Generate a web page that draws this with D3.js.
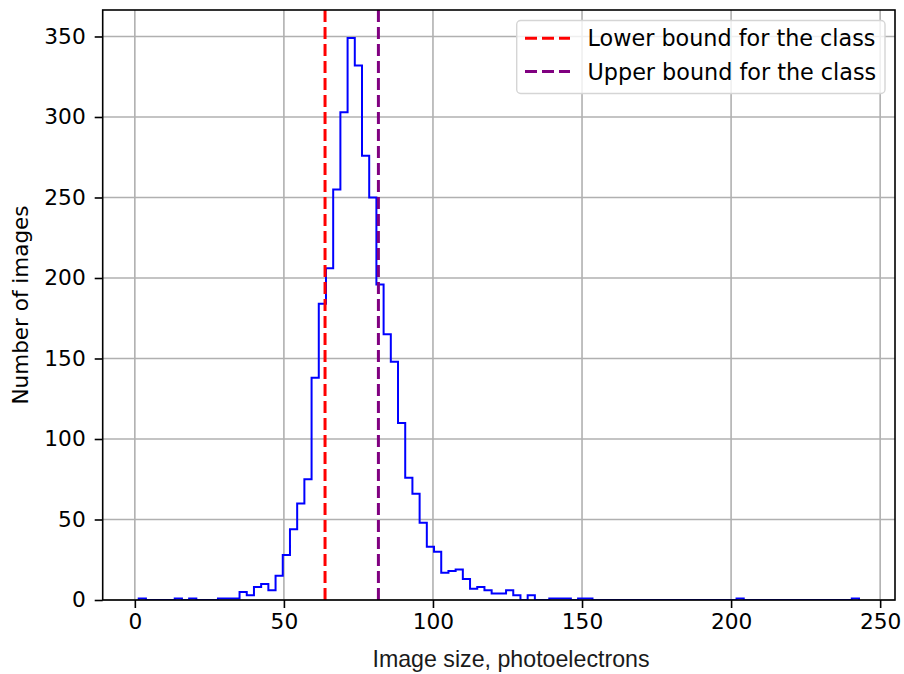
<!DOCTYPE html>
<html>
<head>
<meta charset="utf-8">
<script src="https://cdn.jsdelivr.net/npm/d3@7"></script>
<style>
  html, body { margin: 0; padding: 0; background: #fff; }
  svg { display: block; }
</style>
</head>
<body>
<svg id="chart" width="904" height="674"></svg>
<script>
// Histogram of image sizes: 100 equal-width bins
const binStart = 1.3;
const binWidth = 2.416;
const counts = [
  1, 0, 0, 0, 0, 1, 0, 1, 0, 0,
  0, 1, 1, 1, 5, 3, 8, 10, 6, 15,
  28, 44, 60, 75, 138, 184, 206, 255, 303, 349,
  332, 276, 250, 196, 165, 148, 110, 76, 66, 48,
  33, 30, 17, 18, 19, 13, 7, 8, 6, 4,
  4, 6, 3, 0, 3, 0, 0, 1, 1, 1,
  0, 1, 1, 0, 0, 0, 0, 0, 0, 0,
  0, 0, 0, 0, 0, 0, 0, 0, 0, 0,
  0, 0, 0, 1, 0, 0, 0, 0, 0, 0,
  0, 0, 0, 0, 0, 0, 0, 0, 0, 1
];

// Class bounds (photoelectrons)
const lowerBound = 63.8;
const upperBound = 81.7;

const xTicks = [0, 50, 100, 150, 200, 250];
const yTicks = [0, 50, 100, 150, 200, 250, 300, 350];

const legendItems = [
  { label: "Lower bound for the class", color: "#ff0000" },
  { label: "Upper bound for the class", color: "#800080" }
];

const xLabel = "Image size, photoelectrons";
const yLabel = "Number of images";

// Layout
const plot = { left: 102.7, right: 895, top: 10, bottom: 600 };

const edges = counts.map((_, i) => binStart + i * binWidth).concat([binStart + counts.length * binWidth]);
const xMin = edges[0], xMax = edges[edges.length - 1];
const xPad = 0.05 * (xMax - xMin);
const yMax = d3.max(counts) * 1.05;

const x = d3.scaleLinear().domain([xMin - xPad, xMax + xPad]).range([plot.left, plot.right]);
const y = d3.scaleLinear().domain([0, yMax]).range([plot.bottom, plot.top]);

const svg = d3.select("#chart");

svg.append("defs").append("clipPath").attr("id", "plotClip")
  .append("rect")
  .attr("x", plot.left).attr("y", plot.top)
  .attr("width", plot.right - plot.left).attr("height", plot.bottom - plot.top);

// Grid
const grid = svg.append("g").attr("class", "grid");
grid.selectAll("line.gx").data(xTicks).join("line")
  .attr("class", "gx")
  .attr("x1", d => x(d)).attr("x2", d => x(d))
  .attr("y1", plot.top).attr("y2", plot.bottom)
  .attr("stroke", "#b0b0b0").attr("stroke-width", 1.6);
grid.selectAll("line.gy").data(yTicks).join("line")
  .attr("class", "gy")
  .attr("x1", plot.left).attr("x2", plot.right)
  .attr("y1", d => y(d)).attr("y2", d => y(d))
  .attr("stroke", "#b0b0b0").attr("stroke-width", 1.6);

// Step outline of the histogram
const stepPts = [[edges[0], 0]];
counts.forEach((c, i) => {
  stepPts.push([edges[i], c]);
  stepPts.push([edges[i + 1], c]);
});
stepPts.push([edges[edges.length - 1], 0]);

const line = d3.line().x(d => x(d[0])).y(d => y(d[1]));

const plotArea = svg.append("g").attr("clip-path", "url(#plotClip)");
plotArea.append("path")
  .attr("d", line(stepPts))
  .attr("fill", "none")
  .attr("stroke", "#0000ff")
  .attr("stroke-width", 2)
  .attr("stroke-linejoin", "miter");

// Class bounds
[lowerBound, upperBound].forEach((v, i) => {
  plotArea.append("line")
    .attr("x1", x(v)).attr("x2", x(v))
    .attr("y1", plot.bottom).attr("y2", plot.top)
    .attr("stroke", legendItems[i].color)
    .attr("stroke-width", 3)
    .attr("stroke-dasharray", "12,5");
});

// Axes
const xAxis = d3.axisBottom(x).tickValues(xTicks).tickSize(8).tickPadding(6);
const yAxis = d3.axisLeft(y).tickValues(yTicks).tickSize(8).tickPadding(9);

const gx = svg.append("g").attr("transform", `translate(0,${plot.bottom})`).call(xAxis);
const gy = svg.append("g").attr("transform", `translate(${plot.left},0)`).call(yAxis);

[gx, gy].forEach(g => {
  g.select(".domain").remove();
  g.selectAll(".tick line").attr("stroke", "#000").attr("stroke-width", 1.6);
  g.selectAll(".tick text")
    .attr("fill", "#000")
    .style("font-family", "'DejaVu Sans', sans-serif")
    .style("font-size", "21.7px");
});

// Frame
svg.append("rect")
  .attr("x", plot.left).attr("y", plot.top)
  .attr("width", plot.right - plot.left).attr("height", plot.bottom - plot.top)
  .attr("fill", "none").attr("stroke", "#000").attr("stroke-width", 1.6);

// Axis labels
svg.append("text")
  .attr("x", 511).attr("y", 667)
  .attr("text-anchor", "middle")
  .style("font-family", "'Liberation Sans', Arial, sans-serif")
  .style("font-size", "23.2px")
  .attr("fill", "#1a1a1a")
  .text(xLabel);

svg.append("text")
  .attr("transform", `translate(28,${(plot.top + plot.bottom) / 2}) rotate(-90)`)
  .attr("text-anchor", "middle")
  .style("font-family", "'DejaVu Sans', sans-serif")
  .style("font-size", "21.5px")
  .attr("fill", "#000")
  .text(yLabel);

// Legend
const legend = svg.append("g").attr("class", "legend");
legend.append("rect")
  .attr("x", 516.7).attr("y", 20.5)
  .attr("width", 368.3).attr("height", 73)
  .attr("rx", 4)
  .attr("fill", "#fff").attr("fill-opacity", 0.8)
  .attr("stroke", "#d5d5d5").attr("stroke-width", 1.4);

const rowY = d3.scalePoint().domain(legendItems.map(d => d.label)).range([38.3, 71.5]);
const rows = legend.selectAll("g.row").data(legendItems).join("g")
  .attr("class", "row")
  .attr("transform", d => `translate(0,${rowY(d.label)})`);
rows.append("line")
  .attr("x1", 525).attr("x2", 570)
  .attr("stroke", d => d.color)
  .attr("stroke-width", 3)
  .attr("stroke-dasharray", "12,5");
rows.append("text")
  .attr("x", 587.5)
  .attr("y", 8)
  .style("font-family", "'DejaVu Sans', sans-serif")
  .style("font-size", "22.3px")
  .attr("fill", "#000")
  .text(d => d.label);
</script>
</body>
</html>
